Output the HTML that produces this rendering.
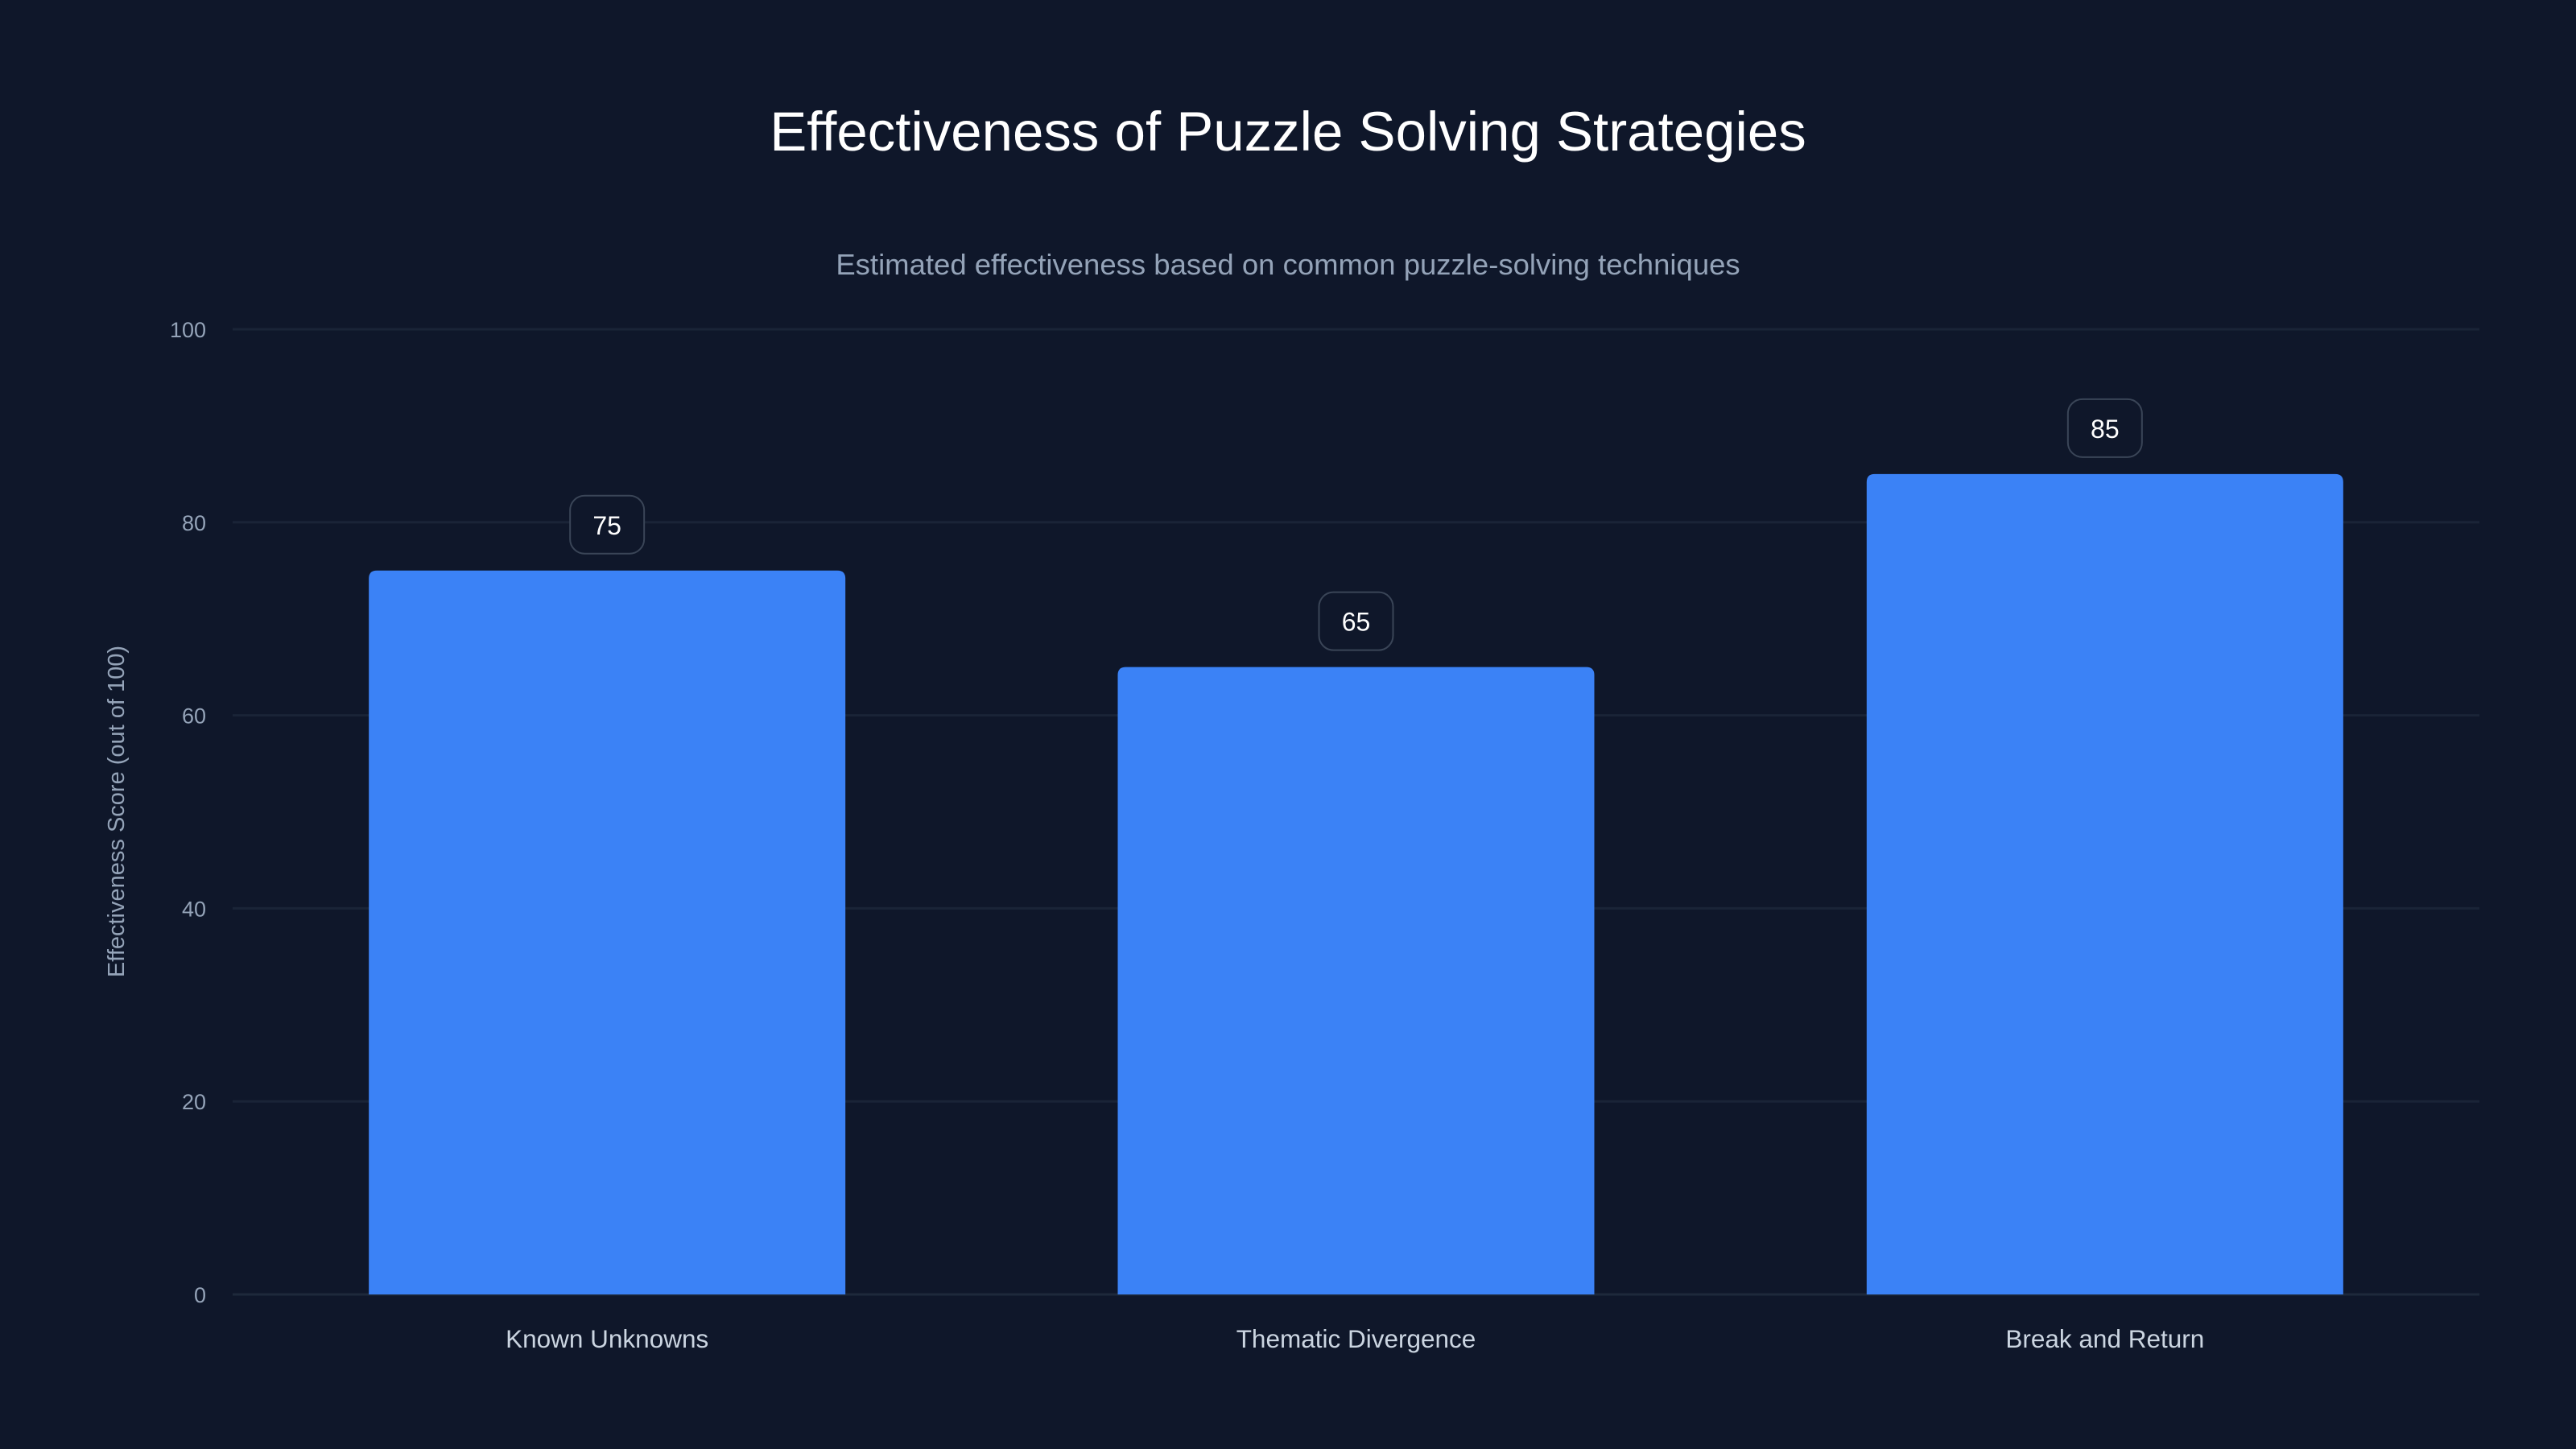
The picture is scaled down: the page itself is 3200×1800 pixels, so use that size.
<!DOCTYPE html>
<html><head><meta charset="utf-8"><style>
html,body{margin:0;padding:0;background:#0f172a;}
svg{display:block;font-family:"Liberation Sans",sans-serif;}
</style></head><body>
<svg id="chart" width="3200" height="1800" viewBox="0 0 3200 1800">
<rect width="3200" height="1800" fill="#0f172a"/>
<text x="1600" y="187" text-anchor="middle" font-size="69" fill="#ffffff">Effectiveness of Puzzle Solving Strategies</text>
<text x="1600" y="341" text-anchor="middle" font-size="36.5" fill="#94a3b8">Estimated effectiveness based on common puzzle-solving techniques</text>
<text transform="translate(154,1008) rotate(-90)" text-anchor="middle" font-size="29" fill="#94a3b8">Effectiveness Score (out of 100)</text>
<g id="grid"></g><g id="bars"></g><g id="labels"></g>
</svg>
<script>
const categories = ["Known Unknowns", "Thematic Divergence", "Break and Return"];
const values = [75, 65, 85];
const yTicks = [0, 20, 40, 60, 80, 100];

const NS = "http://www.w3.org/2000/svg";
const L = 289, R = 3080, T = 409, B = 1608;
const y = v => B - (v / 100) * (B - T);
const band = (R - L) / categories.length;
const bw = 592;
const x = i => L + band * i + band / 2;
function mk(tag, attrs, parent) {
  const e = document.createElementNS(NS, tag);
  for (const k in attrs) e.setAttribute(k, attrs[k]);
  parent.appendChild(e);
  return e;
}
const grid = document.getElementById('grid');
const bars = document.getElementById('bars');
const labels = document.getElementById('labels');
yTicks.forEach(t => {
  const ln = mk('line', {x1: L, x2: R, y1: y(t), y2: y(t), stroke: t === 0 ? '#1e293b' : '#1a2437', 'stroke-width': 3}, grid);
  
  
  const tx = mk('text', {x: 256, y: y(t) + 10, 'text-anchor': 'end', 'font-size': 27, fill: '#94a3b8'}, grid);
  tx.textContent = t;
  
  
});
categories.forEach((c, i) => {
  const v = values[i];
  const top = y(v), cx = x(i), r = 10;
  const p = mk('path', {d: `M${cx - bw/2},${B} L${cx - bw/2},${top + r} Q${cx - bw/2},${top} ${cx - bw/2 + r},${top} L${cx + bw/2 - r},${top} Q${cx + bw/2},${top} ${cx + bw/2},${top + r} L${cx + bw/2},${B} Z`, fill: '#3b82f6'}, bars);
  
  
  const bx = mk('rect', {x: cx - 46, y: top - 93, width: 92, height: 72, rx: 18, fill: '#0f172a', stroke: '#3a4557', 'stroke-width': 2}, labels);
  
  
  const vt = mk('text', {x: cx, y: top - 45, 'text-anchor': 'middle', 'font-size': 32, fill: '#ffffff'}, labels);
  vt.textContent = v;
  
  
  const ct = mk('text', {x: cx, y: 1674, 'text-anchor': 'middle', 'font-size': 31.5, fill: '#cbd5e1'}, labels);
  ct.textContent = c;
  
  
});
</script>
</body></html>
